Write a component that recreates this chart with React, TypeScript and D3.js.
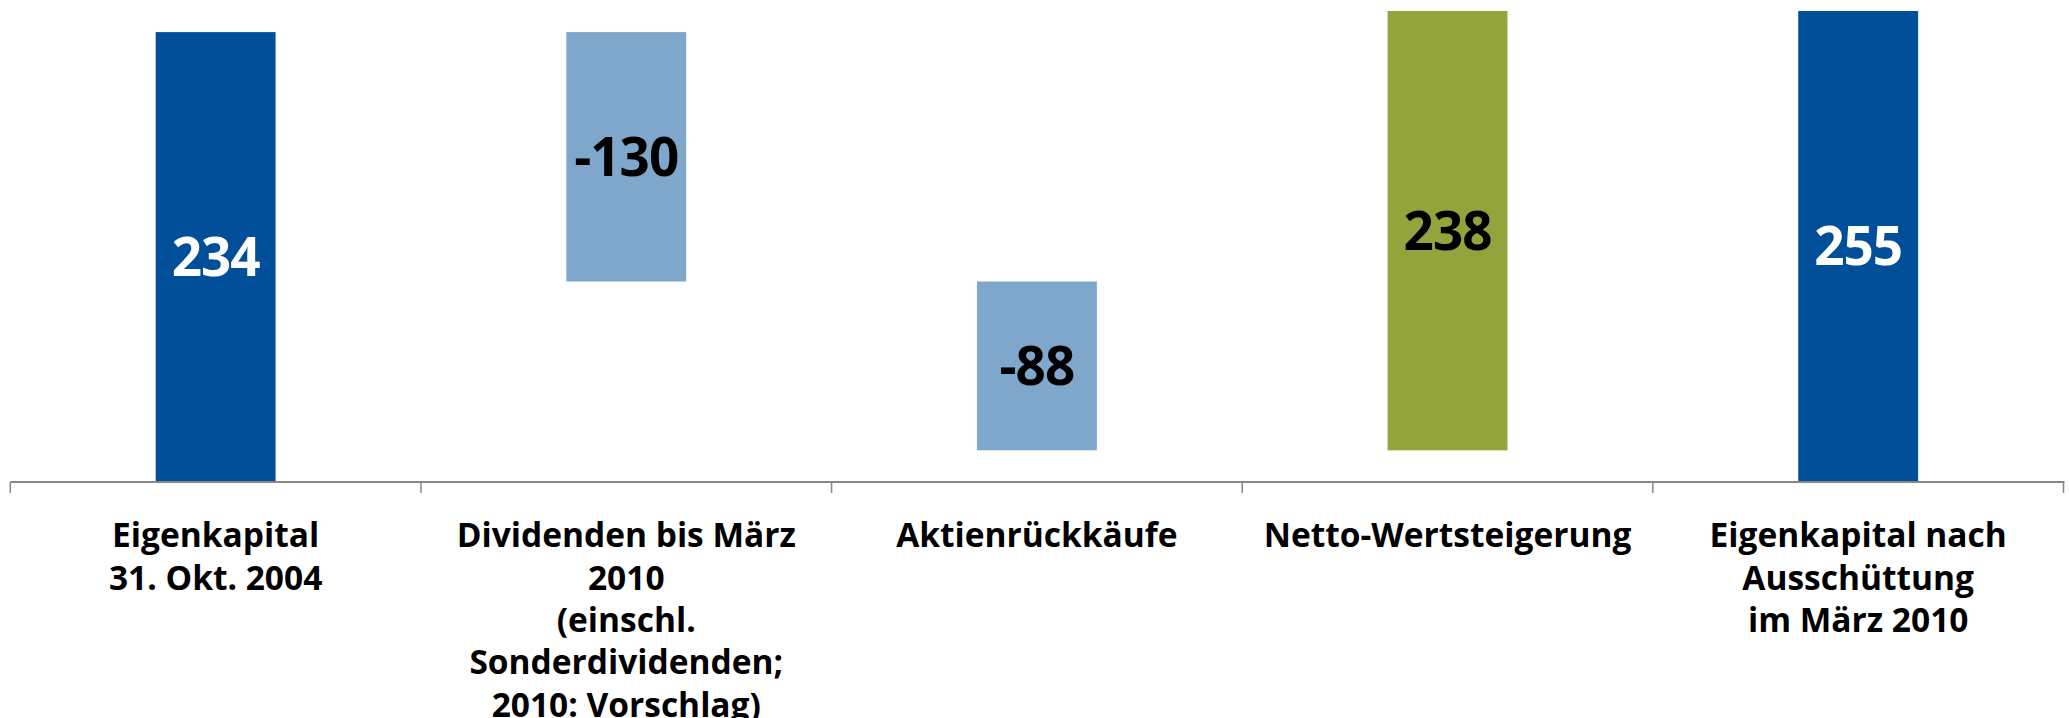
import React from "react";
import * as d3 from "d3";

// Equity bridge (in millions): opening equity, distributions, buybacks, net gain, closing equity
const categories = ["eq2004", "dividends", "buybacks", "gain", "eq2010"];
const categoryLines: string[][] = [
  ["Eigenkapital", "31. Okt. 2004"],
  ["Dividenden bis März", "2010", "(einschl.", "Sonderdividenden;", "2010: Vorschlag)"],
  ["Aktienrückkäufe"],
  ["Netto-Wertsteigerung"],
  ["Eigenkapital nach", "Ausschüttung", "im März 2010"],
];
const values = [234, -130, -88, 238, 255];
const isTotal = [true, false, false, false, true];
const valueLabels = ["234", "-130", "-88", "238", "255"];

const W = 2069;
const H = 718;
const axisLeft = 10.3;
const axisRight = 2063.5;
const baseY = 481;
const plotTop = 11;
const barRatio = 0.292;

const fillFor = (i: number) => {
  if (isTotal[i]) return "#004F98";
  return values[i] < 0 ? "#7FA7CC" : "#93A43C";
};
const labelColor = (i: number) => (isTotal[i] ? "#ffffff" : "#000000");

export default function App() {
  const x = d3.scaleBand<string>().domain(categories).range([axisLeft, axisRight]).padding(0);
  const y = d3.scaleLinear().domain([0, 245]).range([baseY, plotTop]);

  // running totals for the floating bars
  let running = 0;
  const bars = values.map((v, i) => {
    let lo: number, hi: number;
    if (isTotal[i]) {
      lo = 0;
      hi = v;
      running = v;
    } else {
      const next = running + v;
      lo = Math.min(running, next);
      hi = Math.max(running, next);
      running = next;
    }
    const step = x.step();
    const bw = step * barRatio;
    const cx = (x(categories[i]) as number) + step / 2;
    const yTop = Math.max(y(hi), plotTop);
    const yBot = Math.min(y(lo), baseY);
    return { i, cx, bw, yTop, yBot };
  });

  const tickXs = categories.map((c) => x(c) as number).concat([axisRight]);
  const font = "'Open Sans', 'Liberation Sans', sans-serif";

  return (
    <svg
      width={W}
      height={H}
      style={{ position: "absolute", left: 0, top: 0, background: "#ffffff" }}
      fontFamily={font}
    >
      <defs>
        <clipPath id="plotClip">
          <rect x={0} y={plotTop} width={W} height={baseY - plotTop} />
        </clipPath>
      </defs>
      <g clipPath="url(#plotClip)">
        {bars.map((b) => (
          <rect
            key={b.i}
            x={b.cx - b.bw / 2}
            y={b.yTop}
            width={b.bw}
            height={b.yBot - b.yTop}
            fill={fillFor(b.i)}
          />
        ))}
      </g>
      {bars.map((b) => (
        <text
          key={"v" + b.i}
          x={b.cx}
          y={(b.yTop + b.yBot) / 2}
          dy="0.36em"
          textAnchor="middle"
          fontSize={53}
          fontWeight={700}
          letterSpacing={-1}
          fill={labelColor(b.i)}
        >
          {valueLabels[b.i]}
        </text>
      ))}
      <line x1={axisLeft} x2={axisRight + 1} y1={482} y2={482} stroke="#878787" strokeWidth={2} />
      {tickXs.map((tx, k) => (
        <line key={"t" + k} x1={tx} x2={tx} y1={482} y2={493} stroke="#878787" strokeWidth={1.5} />
      ))}
      {categoryLines.map((lines, i) => {
        const cx = (x(categories[i]) as number) + x.step() / 2;
        return (
          <text key={"c" + i} textAnchor="middle" fontSize={33.5} fontWeight={700} fill="#000000">
            {lines.map((ln, k) => (
              <tspan key={k} x={cx} y={547.3 + k * 42.3}>
                {ln}
              </tspan>
            ))}
          </text>
        );
      })}
    </svg>
  );
}
